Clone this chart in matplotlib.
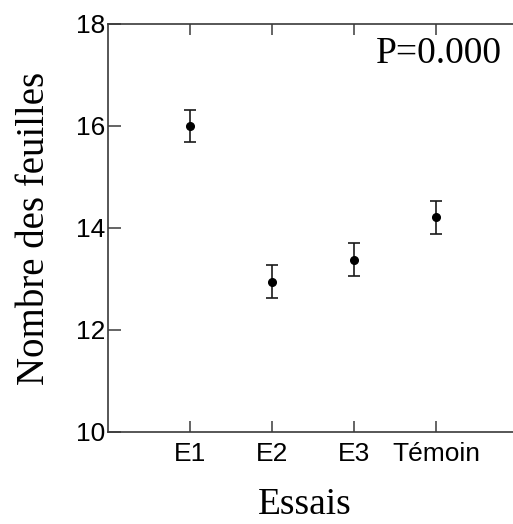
import matplotlib.pyplot as plt
import numpy as np

# values
ESSAIS = ["E1", "E2", "E3", "Témoin"]
MOYENNES = [16.00, 12.95, 13.38, 14.21]
ERREURS = [0.31, 0.32, 0.32, 0.32]
Y_TICKS = [10, 12, 14, 16, 18]

SPINE_COLOR = "#3a3a3a"
SANS = ["Liberation Sans", "DejaVu Sans"]
SERIF = ["Liberation Serif", "DejaVu Serif"]


def main() -> None:
    fig = plt.figure(figsize=(5.13, 5.24), dpi=100)
    # axes runs a little past the right edge, as in the cropped reference
    ax = fig.add_axes([0.2105, 0.1756, 0.799, 0.7786])

    x = np.arange(1, len(ESSAIS) + 1)
    ax.errorbar(
        x,
        MOYENNES,
        yerr=ERREURS,
        fmt="o",
        color="black",
        ecolor="#1a1a1a",
        markersize=5.5,
        elinewidth=1.2,
        capsize=4.5,
        capthick=1.2,
    )

    ax.set_xlim(0, 5)
    ax.set_ylim(10, 18)
    ax.set_xticks(x)
    ax.set_xticklabels(ESSAIS, family=SANS, fontsize=19)
    ax.set_yticks(Y_TICKS)
    ax.set_yticklabels([str(v) for v in Y_TICKS], family=SANS, fontsize=19)

    ax.tick_params(axis="x", direction="in", length=8, width=1.1, color=SPINE_COLOR,
                   top=True, pad=7)
    ax.tick_params(axis="y", direction="in", length=9.5, width=1.1, color=SPINE_COLOR,
                   pad=2)
    for side in ("left", "bottom", "top"):
        ax.spines[side].set_color(SPINE_COLOR)
        ax.spines[side].set_linewidth(1.2)
    ax.spines["right"].set_visible(False)

    ax.set_ylabel("Nombre des feuilles", family=SERIF, fontsize=28)
    ax.yaxis.set_label_coords(-0.135, 0.5)
    ax.set_xlabel("Essais", family=SERIF, fontsize=27)
    ax.xaxis.set_label_coords(0.48, -0.135)

    fig.text(502 / 513, 1 - 63 / 524, "P=0.000", family=SERIF, fontsize=27,
             ha="right", va="baseline")

    fig.savefig("out.png", dpi=100, facecolor="white")
    plt.close(fig)


if __name__ == "__main__":
    main()
